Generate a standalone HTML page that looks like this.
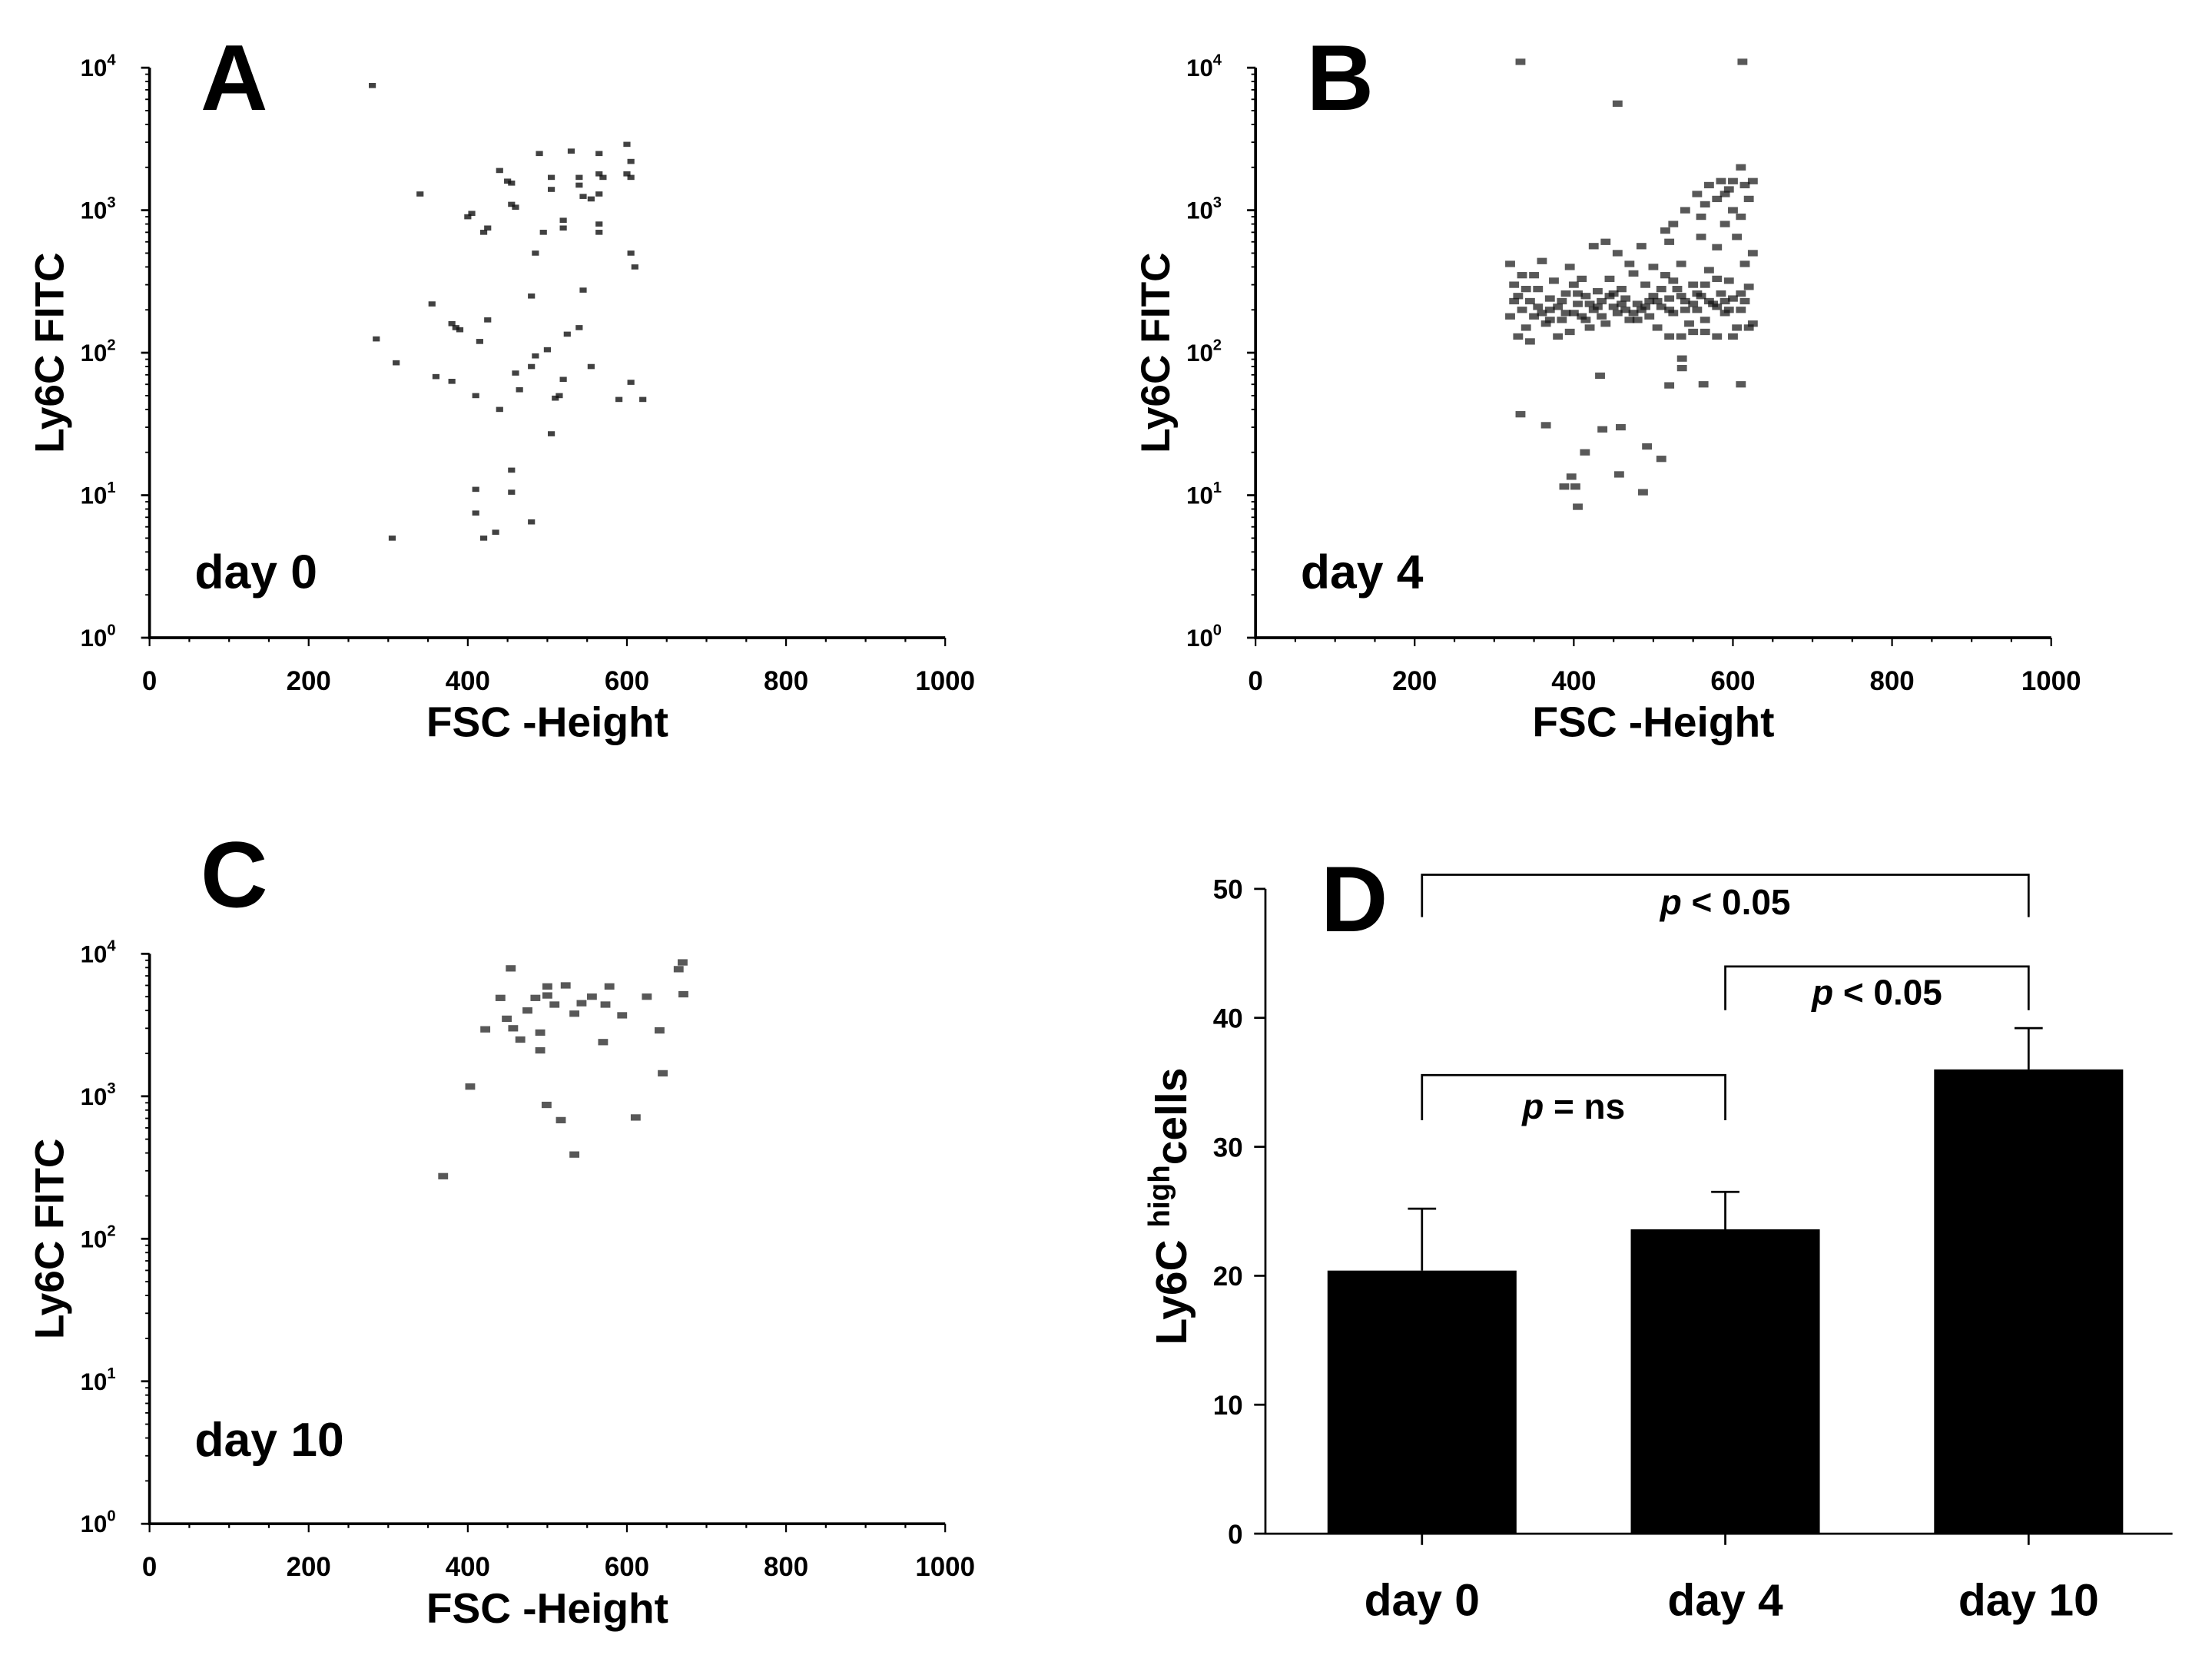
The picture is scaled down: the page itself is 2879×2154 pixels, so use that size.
<!DOCTYPE html>
<html><head><meta charset="utf-8"><style>
html,body{margin:0;padding:0;background:#fff;}
svg{display:block;font-family:"Liberation Sans",Arial,sans-serif;font-weight:bold;}
</style></head><body>
<svg id="fig" width="2879" height="2154" viewBox="0 0 1568 1173" preserveAspectRatio="none" xmlns="http://www.w3.org/2000/svg"></svg>
<script>
// ---- Data ----
const panelA = [[280,7500],[305,5],[285,125],[310,85],[340,1300],[355,220],[360,68],[380,63],[380,160],[385,150],[390,145],[400,900],[405,950],[410,50],[410,11],[410,7.5],[415,120],[420,700],[425,750],[425,170],[420,5],[435,5.5],[440,40],[440,1900],[450,1600],[455,1550],[455,1100],[460,1050],[455,15],[455,10.5],[460,72],[465,55],[480,6.5],[480,250],[480,80],[485,95],[485,500],[490,2500],[495,700],[500,105],[505,1700],[505,1400],[505,27],[510,48],[515,50],[520,65],[520,850],[520,750],[525,135],[530,2600],[540,1700],[540,1500],[540,150],[545,1250],[545,275],[555,1200],[555,80],[565,2500],[565,1800],[565,1300],[565,800],[565,700],[570,1700],[590,47],[600,2900],[600,1800],[605,2200],[605,1700],[605,500],[605,62],[610,400],[620,47]];
const panelB = [[320,420],[325,300],[330,250],[335,200],[320,180],[340,150],[345,230],[350,350],[355,280],[360,190],[365,160],[370,240],[375,320],[380,210],[385,170],[390,260],[395,140],[400,300],[405,220],[410,180],[415,250],[420,150],[425,200],[430,270],[435,230],[440,160],[445,330],[450,210],[455,190],[460,280],[465,240],[470,170],[475,360],[480,220],[485,200],[490,300],[495,180],[500,250],[505,150],[510,210],[515,350],[520,240],[525,190],[530,280],[535,420],[540,230],[545,160],[550,300],[555,200],[560,250],[565,170],[570,380],[575,220],[580,130],[585,260],[590,190],[595,320],[600,240],[605,150],[610,200],[615,420],[620,290],[625,160],[330,130],[345,120],[360,440],[380,130],[395,400],[410,330],[425,560],[440,600],[455,500],[470,420],[485,560],[500,400],[520,130],[535,130],[550,140],[565,140],[580,330],[600,130],[620,150],[335,350],[350,180],[370,200],[390,190],[405,260],[420,220],[435,180],[450,260],[465,200],[480,170],[495,230],[510,280],[525,320],[540,200],[555,260],[570,230],[590,230],[610,260],
[325,230],[340,280],[355,210],[370,170],[385,230],[400,190],[415,170],[430,210],[445,250],[460,220],[475,190],[490,210],[505,230],[520,200],[535,250],[550,220],[565,300],[580,210],[595,200],[615,230],
[515,720],[520,600],[525,800],[540,1000],[555,1300],[560,900],[565,1100],[570,1500],[580,1200],[585,1600],[590,800],[595,1400],[600,1000],[605,650],[610,2000],[615,1500],[620,1200],[625,500],[600,1600],[580,550],[560,650],[625,1600],[610,900],[590,1300],
[333,37],[365,31],[436,29],[459,30],[414,20],[492,22],[510,18],[397,13.5],[388,11.5],[402,11.5],[457,14],[487,10.5],[405,8.3],[433,69],[520,59],[536,91],[536,78],[563,60],[610,60],[333,11000],[612,11000],[455,5600]];
const panelC = [[454,7900],[441,4900],[485,4900],[500,5900],[523,6000],[500,5100],[509,4400],[475,4000],[449,3500],[457,3000],[422,2950],[491,2800],[466,2500],[491,2100],[534,3800],[543,4500],[556,5000],[578,5900],[573,4400],[594,3700],[570,2400],[625,5000],[671,5200],[665,7800],[670,8700],[641,2900],[645,1450],[403,1170],[499,870],[517,680],[611,710],[534,390],[369,275]];
const categories = ["day 0","day 4","day 10"];
const barValues = [20.4,23.6,36.0];
const barErrors = [4.8,2.9,3.2];
const yTicksD = [0,10,20,30,40,50];
const xTicksFSC = [0,200,400,600,800,1000];
const decades = [0,1,2,3,4];

const NS="http://www.w3.org/2000/svg";
const svg=document.getElementById('fig');
function el(tag,attrs,parent){const e=document.createElementNS(NS,tag);for(const k in attrs)e.setAttribute(k,attrs[k]);(parent||svg).appendChild(e);return e;}

function scatterPanel(ox,oy,name,letter,dayLabel,pts,letterY,dayY,big){
  const x0=ox, x1=ox+564, yTop=oy, yBot=oy+404;
  const g=el('g',{});
  
  
  const sx=v=>x0+(v/1000)*(x1-x0);
  const sy=v=>yBot-(Math.log10(v)/4)*(yBot-yTop);
  const ax=el('path',{d:`M${x0},${yTop} V${yBot} H${x1}`,stroke:'#000','stroke-width':2,fill:'none'},g);
  
  
  decades.forEach(d=>{
    const y=sy(Math.pow(10,d));
    el('line',{x1:x0-6,x2:x0,y1:y,y2:y,stroke:'#000','stroke-width':1.5},g);
    const t=el('text',{x:x0-24,y:y+6,'font-size':17,'text-anchor':'end'},g);
    
    
    t.textContent='10';
    const s=el('tspan',{dy:-8,'font-size':11},t); s.textContent=String(d);
    if(d<4){for(let m=2;m<10;m++){const ym=sy(m*Math.pow(10,d));el('line',{x1:x0-3,x2:x0,y1:ym,y2:ym,stroke:'#000','stroke-width':1},g);}}
  });
  for(let v=0;v<=1000;v+=50){const x=sx(v);el('line',{x1:x,x2:x,y1:yBot,y2:yBot+(v%200===0?6:3),stroke:'#000','stroke-width':1.2},g);}
  xTicksFSC.forEach(v=>{
    const t=el('text',{x:sx(v),y:yBot+37,'font-size':19,'text-anchor':'middle'},g);
    
    
    t.textContent=String(v);
  });
  const xt=el('text',{x:ox+282,y:yBot+70,'font-size':30,'text-anchor':'middle'},g);
  
  
  xt.textContent='FSC -Height';
  const yt=el('text',{x:0,y:0,'font-size':29,'text-anchor':'middle',transform:`translate(${ox-61},${oy+202}) rotate(-90)`},g);
  
  
  yt.textContent='Ly6C FITC';
  const lt=el('text',{x:ox+60,y:oy+letterY,'font-size':66,'text-anchor':'middle'},g);
  
  
  lt.textContent=letter;
  const dl=el('text',{x:ox+32,y:oy+dayY,'font-size':34},g);
  
  
  dl.textContent=dayLabel;
  const w=big?7:5,h=big?4.5:3.6;
  pts.forEach(p=>{
    const r=el('rect',{x:sx(p[0])-w/2,y:sy(p[1])-h/2,width:w,height:h,fill:'#111','fill-opacity':big?0.7:0.8},g);
    
    
  });
}
scatterPanel(106,48,'panel-a-scatter','A','day 0',pts=panelA,30,369,false);
scatterPanel(890,48,'panel-b-scatter','B','day 4',panelB,30,369,true);
scatterPanel(106,676,'panel-c-scatter','C','day 10',panelC,-33,356,true);

// ---- Panel D ----
(function(){
  const g=el('g',{});
  
  
  const x0=897,x1=1540,yTop=630,yBot=1087;
  const sy=v=>yBot-(v/50)*(yBot-yTop);
  const cx=i=>x0+111+i*215;
  const ax=el('path',{d:`M${x0},${yTop} V${yBot} H${x1}`,stroke:'#000','stroke-width':1.5,fill:'none'},g);
  
  
  yTicksD.forEach(v=>{
    const y=sy(v);
    el('line',{x1:x0-8,x2:x0,y1:y,y2:y,stroke:'#000','stroke-width':1.5},g);
    const t=el('text',{x:x0-16,y:y+7,'font-size':19,'text-anchor':'end'},g);
    
    
    t.textContent=String(v);
  });
  categories.forEach((c,i)=>{
    const x=cx(i);
    el('line',{x1:x,x2:x,y1:yBot,y2:yBot+8,stroke:'#000','stroke-width':1.5},g);
    const b=el('rect',{x:x-67,y:sy(barValues[i]),width:134,height:yBot-sy(barValues[i]),fill:'#000'},g);
    
    
    const top=sy(barValues[i]+barErrors[i]);
    const e=el('path',{d:`M${x},${sy(barValues[i])} V${top} M${x-10},${top} H${x+10}`,stroke:'#000','stroke-width':1.5,fill:'none'},g);
    
    
    const t=el('text',{x:x,y:1145,'font-size':32,'text-anchor':'middle'},g);
    
    
    t.textContent=c;
  });
  function bracket(a,b,y,yb,label,ly){
    const p=el('path',{d:`M${cx(a)},${yb} V${y} H${cx(b)} V${yb}`,stroke:'#000','stroke-width':1.5,fill:'none'},g);
    
    
    const t=el('text',{x:(cx(a)+cx(b))/2,y:ly,'font-size':25,'text-anchor':'middle'},g);
    
    
    const i=el('tspan',{'font-style':'italic'},t); i.textContent='p';
    const r=el('tspan',{},t); r.textContent=label;
  }
  bracket(0,2,620,650,' < 0.05',648);
  bracket(1,2,685,716,' < 0.05',712);
  bracket(0,1,762,794,' = ns',793);
  const yt=el('text',{x:0,y:0,'font-size':31,'text-anchor':'middle',transform:'translate(841,855) rotate(-90)'},g);
  
  
  const t1=el('tspan',{},yt); t1.textContent='Ly6C ';
  const t2=el('tspan',{dy:-12,'font-size':21},yt); t2.textContent='high';
  const t3=el('tspan',{dy:12},yt); t3.textContent='cells';
  const lt=el('text',{x:960,y:660,'font-size':66,'text-anchor':'middle'},g);
  
  
  lt.textContent='D';
})();
</script>
</body></html>
